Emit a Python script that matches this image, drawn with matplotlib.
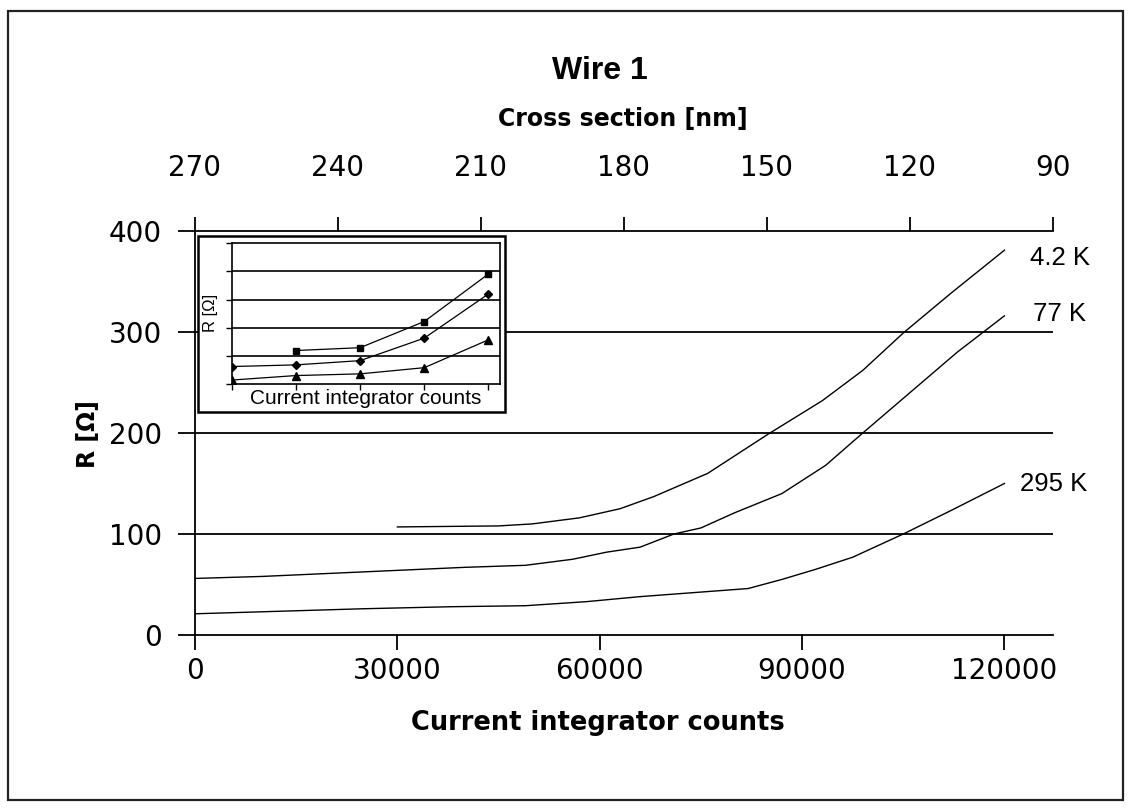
import matplotlib
matplotlib.use('Agg')
import matplotlib.pyplot as plt
from matplotlib.patches import Rectangle

plt.rcParams['font.family'] = ['Liberation Sans', 'DejaVu Sans']

# ---- main chart data (current integrator counts vs resistance in ohm) ----
counts_4K = [30000, 45000, 50000, 57000, 63000, 68000, 76000, 85000, 93000, 99000, 105000, 112000, 120000]
r_4K = [107, 108, 110, 116, 125, 137, 160, 199, 232, 262, 299, 338, 381]

counts_77K = [0, 10000, 20000, 30000, 40000, 49000, 56000, 61000, 66000, 71000, 75000, 80000, 87000,
              93500, 99000, 106000, 113000, 120000]
r_77K = [56, 58, 61, 64, 67, 69, 75, 82, 87, 100, 106, 121, 140, 168, 200, 240, 280, 316]

counts_295K = [0, 15000, 25000, 38000, 49000, 58000, 66000, 72000, 82000, 87000, 92000, 97500, 105000,
               112000, 120000]
r_295K = [21, 24, 26, 28, 29, 33, 38, 41, 46, 55, 65, 77, 100, 123, 150]

curve_labels = ['4.2 K', '77 K', '295 K']

bottom_ticks = [0, 30000, 60000, 90000, 120000]
y_ticks = [0, 100, 200, 300, 400]
grid_levels = [100, 200, 300]
top_ticks = [270, 240, 210, 180, 150, 120, 90]

# ---- inset data (arbitrary units) ----
inset_x_4K = [1, 2, 3, 4]
inset_y_4K = [1.19, 1.29, 2.22, 3.91]
inset_x_77K = [0, 1, 2, 3, 4]
inset_y_77K = [0.62, 0.68, 0.83, 1.63, 3.20]
inset_x_295K = [0, 1, 2, 3, 4]
inset_y_295K = [0.14, 0.30, 0.36, 0.58, 1.57]
inset_grid = [1, 2, 3, 4]

W, H = 1131, 808
fig = plt.figure(figsize=(W / 100, H / 100), dpi=100)

def fx(px):
    return px / W

def fy(py):
    return 1 - py / H

TICKFONT = dict(family='DejaVu Sans', size=20)

# main axes: x 195..1053 px, y 231..635 px
ax = fig.add_axes([fx(195), fy(635), (1053 - 195) / W, (635 - 231) / H])
ax.set_xlim(0, 127200)
ax.set_ylim(0, 400)
for g in grid_levels:
    ax.axhline(g, color='black', lw=1.3, zorder=1)
ax.plot(counts_4K, r_4K, color='black', lw=1.0, zorder=2)
ax.plot(counts_77K, r_77K, color='black', lw=1.0, zorder=2)
ax.plot(counts_295K, r_295K, color='black', lw=1.0, zorder=2)
ax.set_xticks(bottom_ticks)
ax.set_xticklabels([str(t) for t in bottom_ticks], fontdict=TICKFONT)
ax.set_yticks(y_ticks)
ax.set_yticklabels([str(t) for t in y_ticks], fontdict=TICKFONT)
ax.spines['right'].set_visible(False)
ax.spines['top'].set_visible(False)
for s in ['left', 'bottom']:
    ax.spines[s].set_linewidth(1.3)
ax.tick_params(axis='x', direction='out', length=11, width=1.3, pad=5)
ax.tick_params(axis='y', direction='out', length=12, width=1.3, pad=12)

# top secondary axis (cross section)
ax2 = ax.twiny()
ax2.set_xlim(270, 90)
ax2.set_xticks(top_ticks)
ax2.set_xticklabels([str(t) for t in top_ticks], fontdict=TICKFONT)
for s in ['left', 'right', 'bottom']:
    ax2.spines[s].set_visible(False)
ax2.spines['top'].set_linewidth(1.3)
ax2.tick_params(axis='x', direction='out', length=10, width=1.3, pad=25)

# texts
fig.text(fx(600), fy(71), 'Wire 1', ha='center', va='center', fontsize=23, fontweight='bold')
fig.text(fx(623), fy(119), 'Cross section [nm]', ha='center', va='center', fontsize=17,
         fontweight='bold', family='DejaVu Sans')
fig.text(fx(598), fy(723), 'Current integrator counts', ha='center', va='center', fontsize=18.5,
         fontweight='bold', family='DejaVu Sans')
fig.text(fx(88), fy(434), 'R [Ω]', ha='center', va='center', rotation=90, fontsize=17,
         fontweight='bold', family='DejaVu Sans')

label_pos = [(1030, 258), (1033, 314), (1020, 484)]
for lab, (px, py) in zip(curve_labels, label_pos):
    fig.text(fx(px), fy(py), lab, ha='left', va='center', fontsize=18.5)

# inset frame
frame = Rectangle((fx(198), fy(412)), (505 - 198) / W, (412 - 236) / H, transform=fig.transFigure,
                  facecolor='white', edgecolor='black', lw=1.8, zorder=2)
fig.add_artist(frame)

axi = fig.add_axes([fx(231.7), fy(384), (500 - 231.7) / W, (384 - 243.3) / H])
axi.set_zorder(3)
axi.set_xlim(0, 4.18)
axi.set_ylim(0, 5)
for g in inset_grid:
    axi.axhline(g, color='black', lw=1.2, zorder=1)
axi.plot(inset_x_4K, inset_y_4K, color='black', lw=0.9, marker='s', ms=5, zorder=3)
axi.plot(inset_x_77K, inset_y_77K, color='black', lw=0.9, marker='D', ms=4, zorder=3)
axi.plot(inset_x_295K, inset_y_295K, color='black', lw=0.9, marker='^', ms=5.5, zorder=3)
axi.set_xticks([0, 1, 2, 3, 4])
axi.set_yticks([0, 1, 2, 3, 4, 5])
axi.set_xticklabels([])
axi.set_yticklabels([])
for s in axi.spines.values():
    s.set_linewidth(1.2)
axi.tick_params(axis='both', direction='out', length=4, width=1.0)
fig.text(fx(366), fy(398), 'Current integrator counts', ha='center', va='center', fontsize=15, zorder=4)
fig.text(fx(210), fy(313), 'R [Ω]', ha='center', va='center', rotation=90, fontsize=12, zorder=4)

# outer border
border = Rectangle((fx(8), fy(800)), (1123 - 8) / W, (800 - 11) / H, transform=fig.transFigure,
                   fill=False, edgecolor='#222222', lw=1.6)
fig.add_artist(border)

fig.savefig('out.png', dpi=100)
